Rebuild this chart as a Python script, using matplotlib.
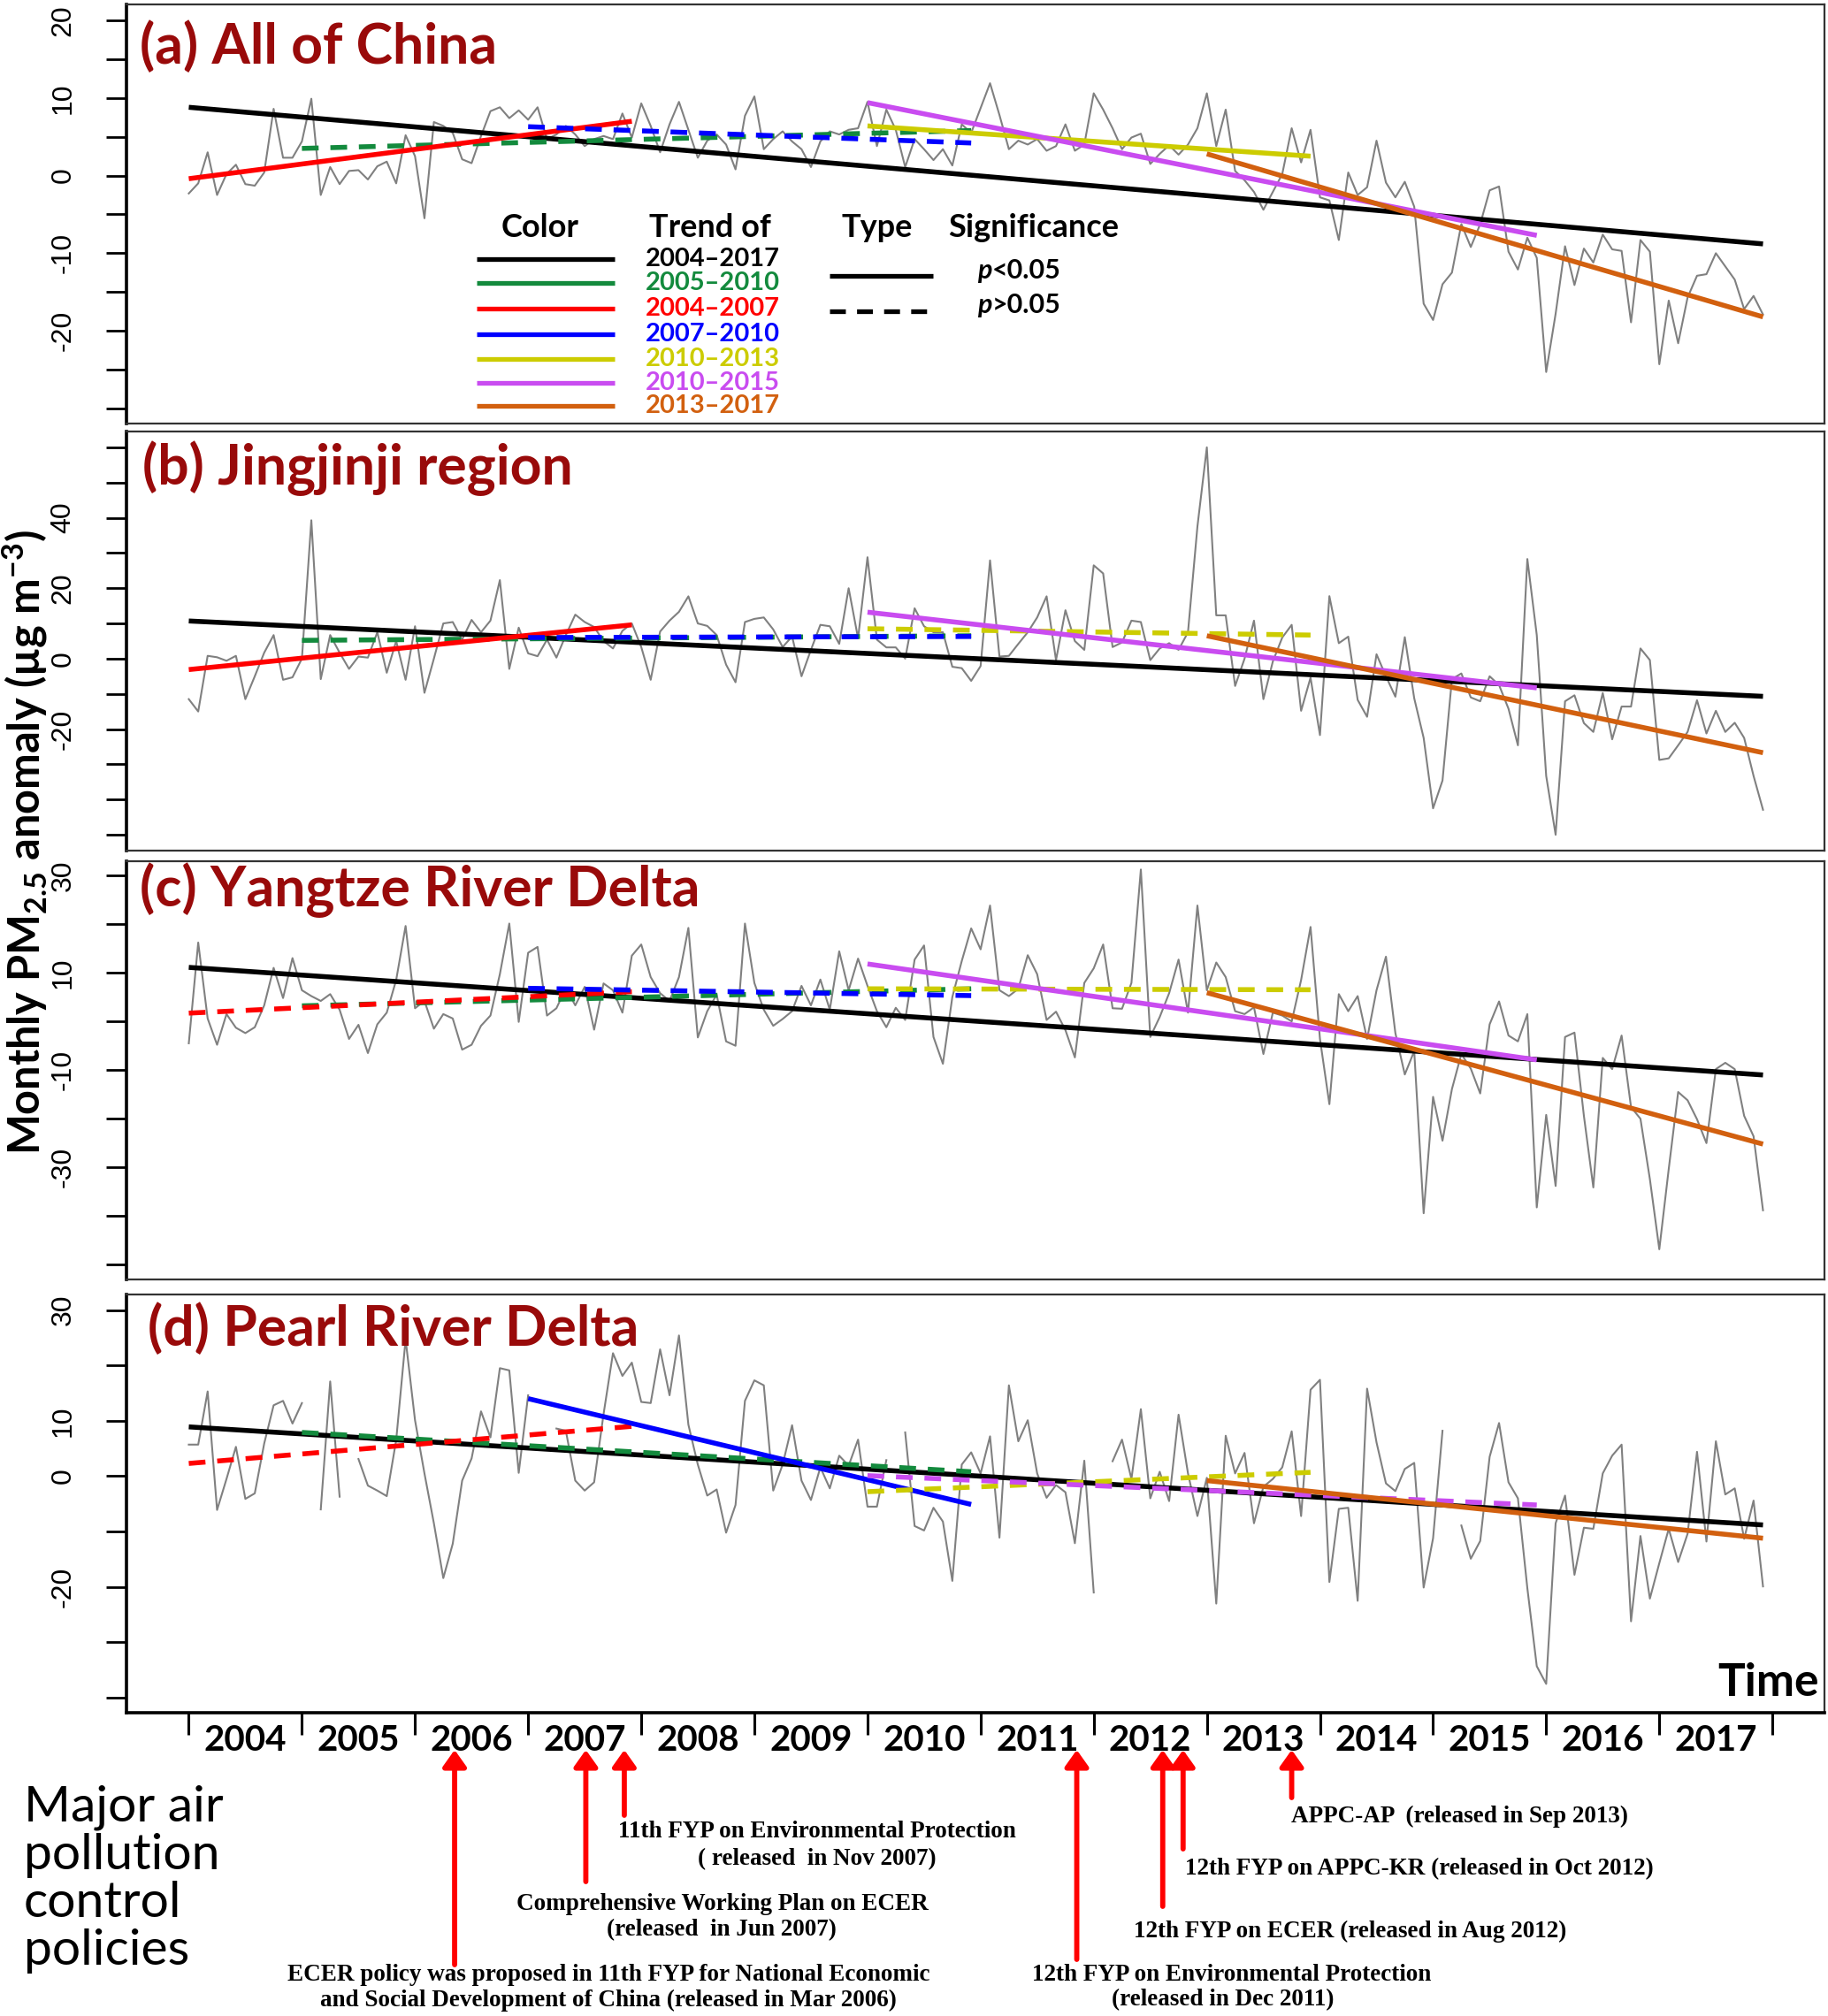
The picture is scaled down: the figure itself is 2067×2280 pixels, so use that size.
import numpy as np
import matplotlib
matplotlib.use("Agg")
import matplotlib.pyplot as plt

plt.rcParams['mathtext.fontset'] = 'custom'
plt.rcParams['mathtext.rm'] = 'Lato:bold'
plt.rcParams['mathtext.it'] = 'Lato:bold'
plt.rcParams['mathtext.bf'] = 'Lato:bold'

# ---------------- data ----------------
years = list(range(2004, 2018))
n_months = 168

pm_china = [-2.3, -1.0, 3.0, -2.5, 0.2, 1.4, -1.1, -1.3, 0.4, 8.6, 2.3, 2.3,
            4.4, 9.9, -2.5, 1.1, -1.1, 0.6, 0.7, -0.5, 1.2, 1.8, -1.0, 5.2,
            2.5, -5.5, 6.9, 6.4, 5.5, 2.1, 1.6, 5.1, 8.3, 8.8, 7.4, 8.4,
            7.2, 8.8, 4.7, 5.3, 6.4, 5.3, 3.8, 4.7, 5.1, 4.7, 8.0, 4.9,
            9.3, 6.4, 3.0, 6.6, 9.5, 5.9, 2.3, 4.5, 5.3, 4.0, 0.8, 7.7,
            10.2, 3.4, 4.7, 5.7, 4.4, 3.4, 1.1, 4.4, 5.7, 5.3, 5.9, 6.1,
            9.5, 3.8, 8.5, 5.9, 1.1, 4.7, 3.4, 2.0, 3.4, 1.3, 6.6, 5.5,
            8.7, 11.9, 7.8, 3.4, 4.5, 4.0, 4.7, 3.2, 3.8, 6.6, 3.2, 4.0,
            10.6, 8.5, 6.1, 3.4, 4.9, 5.4, 1.5, 2.8, 3.9, 2.7, 4.0, 6.1,
            10.6, 3.8, 8.5, 0.6, -0.6, -2.1, -4.4, -2.1, 0.2, 6.1, 1.7, 5.9,
            -2.8, -3.2, -8.3, 0.4, -2.5, -1.5, 4.5, -0.9, -2.8, -0.8, -4.0, -16.5,
            -18.6, -14.0, -12.5, -6.25, -9.2, -6.25, -1.9, -1.4, -9.8, -12.1, -8.0, -10.6,
            -25.3, -17.8, -9.1, -14.1, -9.4, -11.2, -7.6, -9.5, -9.7, -18.9, -8.3, -9.8,
            -24.3, -16.1, -21.6, -15.7, -12.9, -12.7, -10.0, -11.7, -13.4, -17.2, -15.5, -17.9]

pm_jingjinji = [-11.5, -15, 0.8, 0.4, -0.6, 0.8, -11.5, -5, 1.7, 6.7, -6, -5.3,
                0, 39.3, -5.8, 6.7, 1.7, -2.9, 0.6, 0.3, 7.5, -4, 5, -6,
                9.2, -9.7, 0, 10, 10.4, 5.4, 11, 7.5, 10.8, 22.3, -2.9, 8.8,
                1.5, 0.7, 5.4, 0.3, 6.7, 12.5, 10.4, 9, 5, 2.9, 7.9, 10,
                3.3, -6, 7.7, 10.8, 13.3, 17.7, 10, 9.3, 6.7, -1.7, -6.7, 10.4,
                11.3, 11.7, 8.3, 3.3, 6.3, -5, 2.5, 9.6, 9.2, 4.2, 20, 5.8,
                28.8, 5.4, 3.2, 3.2, 0, 14.3, 9.2, 7.5, 7.5, -2.3, -2.7, -6.3,
                -2.1, 27.9, 0.6, 0.8, 4.2, 7.5, 11.7, 17.7, -0.4, 13.75, 5, 2.5,
                26.5, 24.2, 3.3, 4.6, 10.8, 10.4, -0.4, 2.9, 4.4, 2.5, 7.5, 37.5,
                60, 12.3, 12.3, -7.75, 0, 10.8, -11.5, -0.8, 6, 9.6, -14.8, -5.4,
                -21.7, 17.75, 4.4, 6.25, -11.7, -16.5, 1.25, -5, -10.8, 6.1, -11.25, -22.5,
                -42.5, -34.6, -5.8, -4.2, -11, -12.1, -5, -7.5, -14.2, -24.6, 28.3, 6.7,
                -33.3, -50, -12.1, -10.4, -18.3, -20.8, -9.75, -22.9, -13.6, -13.6, 2.9, -0.4,
                -28.75, -28.3, -24.6, -20.8, -11.8, -21.25, -14.8, -20.8, -18.2, -22.5, -33.3, -42.9]

pm_yrd = [-4.5, 16.2, 0.6, -4.8, 1.5, -1.3, -2.4, -1.2, 3.3, 11.0, 4.8, 13.0,
          6.4, 5.2, 4.2, 5.6, 2.4, -3.6, -0.7, -6.5, -0.6, 1.8, 8.5, 19.6,
          2.7, 4.2, -1.5, 1.5, 0.6, -5.8, -4.8, -0.9, 1.2, 9.7, 20.1, -0.1,
          14.1, 15.3, 1.2, 2.7, 6.8, 3.3, 7.1, -1.7, 7.8, 6.4, 1.8, 13.5,
          15.8, 9.1, 5.8, 4.2, 9.1, 19.2, -3.3, 2.1, 5.5, -4.1, -5.0, 20.1,
          7.9, 2.4, -0.9, 0.5, 2.1, 7.3, 3.3, 8.6, 2.4, 14.4, 6.4, 12.9,
          7.3, 2.1, -1.2, 2.8, 0.3, 12.7, 15.6, -3.2, -8.7, 5.0, 12.4, 19.1,
          14.8, 23.8, 6.4, 5.2, 6.7, 13.6, 9.7, 0.3, 2.0, -1.8, -7.4, 7.9,
          10.9, 15.8, 2.7, 2.6, 7.9, 31.2, -3.2, 0.9, 5.8, 12.7, 1.8, 23.8,
          6.4, 12.1, 9.1, 2.1, 1.5, 2.9, -6.7, 1.8, 1.2, 0.0, 8.5, 19.4,
          -3.6, -17.0, 5.6, 2.1, 5.2, -3.6, 6.4, 13.3, -2.4, -10.9, -6.1, -39.4,
          -15.5, -24.5, -13.9, -6.7, -9.7, -14.8, -0.6, 4.1, -2.9, -4.1, 1.5, -38.2,
          -19.2, -33.8, -3.2, -2.3, -19.4, -34.1, -7.5, -9.8, -2.9, -17.6, -20.0, -32.4,
          -46.8, -30.3, -14.5, -16.2, -20.1, -25.0, -9.8, -8.5, -9.8, -19.4, -23.6, -38.8]

nan = float('nan')
pm_prd = [5.7, 5.7, 15.3, -6.1, -0.5, 5.3, -4.1, -3.1, 5.9, 12.8, 13.6, 9.5,
          13.2, nan, -6.0, 17.1, -3.7, nan, 3.1, -1.7, -2.6, -3.6, 6.5, 24.7,
          10.1, 0.5, -8.5, -18.4, -12.2, -0.8, 3.2, 11.7, 7.0, 19.5, 19.1, 0.6,
          14.6, nan, nan, 8.6, 8.2, -0.8, -2.6, -1.1, 11.2, 22.2, 18.1, 20.5,
          13.4, 13.2, 22.9, 14.6, 25.4, 9.3, 2.1, -3.5, -2.4, -10.2, -5.2, 13.6,
          17.3, 16.4, -2.6, 2.1, 9.2, -0.8, -4.3, 1.6, -2.2, 3.7, 1.9, 6.6,
          -5.5, -5.5, 2.9, nan, 7.9, -9.0, -9.8, -5.7, -8.2, -18.9, 2.1, 4.3,
          0.5, 7.2, -11.1, 16.4, 6.3, 10.1, 0.5, -3.9, -1.6, -2.9, -12.1, 2.8,
          -21.0, nan, 2.7, 6.6, -0.5, 12.1, -4.0, 0.8, -4.5, 11.1, 0.5, -7.2,
          -0.3, -23.0, 7.3, 0.5, 4.2, -8.5, -1.9, -0.5, 1.6, 8.1, -7.2, 15.6,
          17.4, -19.1, -5.9, -5.7, -22.5, 15.8, 6.1, -1.3, -2.7, 1.3, 2.4, -20.1,
          -11.2, 8.2, nan, -8.9, -14.9, -11.7, 3.5, 9.6, -1.1, -4.0, -20.2, -34.3,
          -37.5, -8.5, -3.5, -17.8, -9.3, -9.5, 0.5, 3.7, 5.7, -26.2, -10.8, -22.1,
          -15.7, -9.5, -15.5, -10.4, 4.4, -11.8, 6.3, -3.3, -2.2, -11.3, -4.4, -19.9]

trend_labels = ['2004–2017', '2005–2010', '2004–2007', '2007–2010',
                '2010–2013', '2010–2015', '2013–2017']
trend_start_year = [2004, 2005, 2004, 2007, 2010, 2010, 2013]
trend_end_year = [2017, 2010, 2007, 2010, 2013, 2015, 2017]
trend_colors = ['#000000', '#138A3D', '#FF0000', '#0000FF',
                '#CCCC00', '#C94CF0', '#D2600F']

# fitted trend values at start / end of each period, and significance (1: p<0.05)
china_trend_start = [8.8, 3.5, -0.4, 6.3, 6.4, 9.4, 2.8]
china_trend_end = [-8.8, 5.8, 7.0, 4.2, 2.5, -7.7, -18.2]
china_sig = [1, 0, 1, 0, 1, 1, 1]

jjj_trend_start = [10.7, 5.2, -3.1, 6.0, 8.5, 13.2, 6.5]
jjj_trend_end = [-10.7, 6.5, 9.6, 6.3, 6.7, -8.3, -26.7]
jjj_sig = [1, 0, 1, 0, 0, 1, 1]

yrd_trend_start = [11.1, 3.2, 1.7, 6.8, 6.7, 11.8, 5.9]
yrd_trend_end = [-11.0, 6.7, 6.1, 5.3, 6.5, -7.9, -25.2]
yrd_sig = [1, 0, 0, 0, 0, 1, 1]

prd_trend_start = [8.9, 7.9, 2.3, 14.0, -2.8, 0.1, -0.8]
prd_trend_end = [-8.8, 0.8, 9.0, -5.1, 0.7, -5.2, -11.2]
prd_sig = [1, 0, 0, 1, 0, 0, 1]

panel_titles = ['(a) All of China', '(b) Jingjinji region',
                '(c) Yangtze River Delta', '(d) Pearl River Delta']

policy_dates = [2006.35, 2007.51, 2007.85, 2011.85, 2012.61, 2012.79, 2013.75]

# ---------------- figure ----------------
W, H, DPI = 2067, 2280, 100
fig = plt.figure(figsize=(W / DPI, H / DPI), dpi=DPI)

def fbox(x0, ytop, x1, ybot):
    return [x0 / W, 1 - ybot / H, (x1 - x0) / W, (ybot - ytop) / H]

XL = (2003.449, 2018.46)
t = 2004 + np.arange(n_months) / 12.0

TITLE_COL = '#990A0A'
GREY = '#808080'
LW_TREND = 4.0
DASH = (3.4, 2.4)

panels = [
    dict(box=(143, 5, 2063, 479), ylim=(-31.94, 22.05), ticks=np.arange(-30, 21, 5),
         shown=[20, 10, 0, -10, -20], data=pm_china,
         ts=china_trend_start, te=china_trend_end, sig=china_sig),
    dict(box=(143, 488, 2063, 962), ylim=(-54.5, 64.5), ticks=np.arange(-50, 61, 10),
         shown=[40, 20, 0, -20], data=pm_jingjinji,
         ts=jjj_trend_start, te=jjj_trend_end, sig=jjj_sig),
    dict(box=(143, 974, 2063, 1447), ylim=(-53.0, 32.9), ticks=np.arange(-50, 31, 10),
         shown=[30, 10, -10, -30], data=pm_yrd,
         ts=yrd_trend_start, te=yrd_trend_end, sig=yrd_sig),
    dict(box=(143, 1464, 2063, 1937), ylim=(-42.7, 32.8), ticks=np.arange(-40, 31, 10),
         shown=[30, 10, 0, -20], data=pm_prd,
         ts=prd_trend_start, te=prd_trend_end, sig=prd_sig),
]
title_baseline = [67, 60, 51, 58]
title_left = [158, 161, 158, 167]

axes = []
for k, p in enumerate(panels):
    x0, ytop, x1, ybot = p['box']
    ax = fig.add_axes(fbox(x0, ytop, x1, ybot))
    axes.append(ax)
    ax.set_xlim(XL)
    ax.set_ylim(p['ylim'])
    ax.plot(t, p['data'], color=GREY, lw=1.5, zorder=2)
    for j in range(len(trend_labels)):
        xs = [trend_start_year[j], trend_end_year[j] + 11 / 12.0]
        ys = [p['ts'][j], p['te'][j]]
        ln, = ax.plot(xs, ys, color=trend_colors[j], lw=LW_TREND, zorder=3 + j,
                      solid_capstyle='butt', dash_capstyle='butt')
        if not p['sig'][j]:
            ln.set_dashes(DASH)
    ax.set_yticks(p['ticks'])
    ax.set_yticklabels([str(v) if v in p['shown'] else '' for v in p['ticks']],
                       rotation=90, va='center', fontsize=23, family='Liberation Sans')
    ax.tick_params(axis='y', direction='out', length=16.5, width=2.0, pad=24, color='black')
    for s in ax.spines.values():
        s.set_linewidth(1.6)
        s.set_color('#333333')
    ax.spines['left'].set_linewidth(2.6)
    ax.spines['left'].set_color('black')
    if k < 3:
        ax.set_xticks([])
    ax.text((title_left[k] - x0) / (x1 - x0), 1 - title_baseline[k] / (ybot - ytop),
            panel_titles[k], transform=ax.transAxes, ha='left', va='baseline',
            fontsize=45, fontweight='bold', family='Lato', color=TITLE_COL, zorder=20)

# ---- x axis on panel d ----
axd = axes[3]
axd.set_xticks(np.arange(2004, 2019))
axd.set_xticklabels([''] * 15)
axd.set_xticks(np.array(years) + 0.5, minor=True)
axd.set_xticklabels([str(y) for y in years], minor=True, fontsize=29,
                    fontweight='bold', family='Lato')
axd.tick_params(axis='x', which='major', direction='out', length=18, width=2.2, color='black')
axd.tick_params(axis='x', which='minor', length=0, pad=9)
axd.spines['bottom'].set_linewidth(2.6)
axd.spines['bottom'].set_color('black')
axd.text(0.9969, 0.040, 'Time', transform=axd.transAxes, ha='right', va='baseline',
         fontsize=37, fontweight='bold', family='Lato', zorder=20)

# ---- legend in panel a ----
axa = axes[0]
def axy(py):
    return (479 - py) / 474.0
def axx(px):
    return (px - 143) / 1920.0
row_y = [293, 320, 349, 378, 406, 433, 459]
for label, cx in [('Color', 611), ('Trend of', 803), ('Type', 992), ('Significance', 1169)]:
    axa.text(axx(cx), axy(257), label, transform=axa.transAxes, ha='center', va='center',
             fontsize=26, fontweight='bold', family='Lato')
for j, lab in enumerate(trend_labels):
    axa.plot([axx(539), axx(695)], [axy(row_y[j])] * 2, transform=axa.transAxes,
             color=trend_colors[j], lw=3.8, solid_capstyle='butt', zorder=10)
    axa.text(axx(806), axy(row_y[j]), lab, transform=axa.transAxes, ha='center', va='center',
             fontsize=21, fontweight='bold', family='Lato', color=trend_colors[j])
axa.plot([axx(938), axx(1055)], [axy(312)] * 2, transform=axa.transAxes,
         color='black', lw=3.8, solid_capstyle='butt')
lnd, = axa.plot([axx(938), axx(1055)], [axy(352)] * 2, transform=axa.transAxes,
                color='black', lw=3.8, dash_capstyle='butt')
lnd.set_dashes(DASH)
for py, s in [(306, '<0.05'), (345, '>0.05')]:
    axa.text(axx(1122), axy(py), 'p', transform=axa.transAxes, ha='right', va='center',
             fontsize=22, fontweight='bold', style='italic', family='Lato')
    axa.text(axx(1122), axy(py), s, transform=axa.transAxes, ha='left', va='center',
             fontsize=22, fontweight='bold', family='Lato')

# ---- y label ----
fig.text(28 / W, 1 - 952 / H, 'Monthly PM$_{2.5}$ anomaly (µg m$^{-3}$)', rotation=90,
         ha='center', va='center', fontsize=35, fontweight='bold', family='Lato')

# ---- bottom annotations ----
axb = fig.add_axes(fbox(143, 1937, 2063, 2280))
axb.set_xlim(XL)
axb.set_ylim(2280, 1937)
axb.axis('off')
arrow_bottom = [2222, 2128, 2053, 2216, 2156, 2091, 2033]
for xd, yb in zip(policy_dates, arrow_bottom):
    axb.annotate('', xy=(xd, 1979), xytext=(xd, yb),
                 arrowprops=dict(arrowstyle='-|>,head_length=0.45,head_width=0.32',
                                 color='#FF0000', lw=4.2, mutation_scale=25,
                                 shrinkA=0, shrinkB=0))

ann = [
    ("11th FYP on Environmental Protection", 924, 2072),
    ("( released  in Nov 2007)", 924, 2103),
    ("Comprehensive Working Plan on ECER", 817, 2153),
    ("(released  in Jun 2007)", 816, 2183),
    ("ECER policy was proposed in 11th FYP for National Economic", 688, 2233),
    ("and Social Development of China (released in Mar 2006)", 688, 2262),
    ("12th FYP on Environmental Protection", 1393, 2233),
    ("(released in Dec 2011)", 1383, 2262),
    ("12th FYP on ECER (released in Aug 2012)", 1527, 2184),
    ("12th FYP on APPC-KR (released in Oct 2012)", 1605, 2114),
    ("APPC-AP  (released in Sep 2013)", 1651, 2054),
]
for s, px, py in ann:
    fig.text(px / W, 1 - py / H, s, ha='center', va='center', fontsize=19.5,
             fontweight='bold', family='Liberation Serif')

for i, s in enumerate(['Major air', 'pollution', 'control', 'policies']):
    fig.text(27 / W, 1 - (2060 + 54 * i) / H, s, ha='left', va='baseline',
             fontsize=41, family='Lato')

fig.savefig('out.png', dpi=DPI)
